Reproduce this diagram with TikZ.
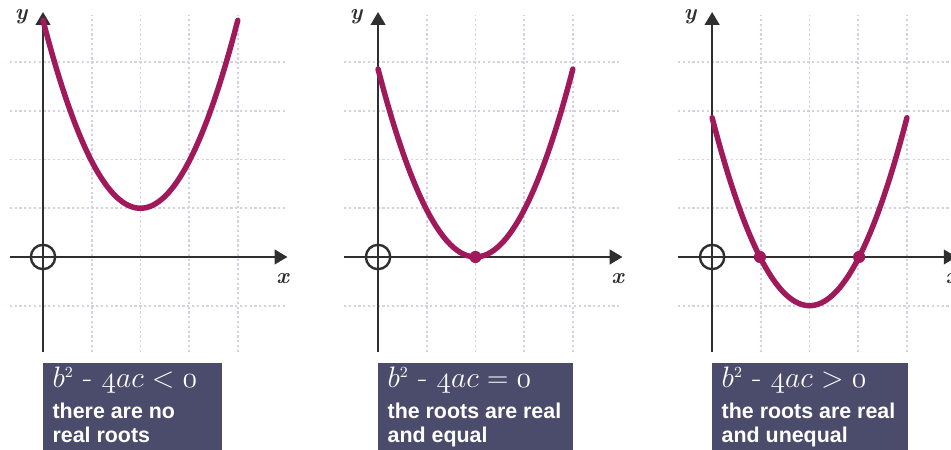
\documentclass[tikz,border=0pt]{standalone}
\usepackage{fontspec}
\usepackage{tikz}
\usetikzlibrary{arrows.meta, positioning}
\newfontfamily\boxsans{Liberation Sans}
\definecolor{qcurve}{HTML}{A01A5B}
\definecolor{qaxis}{HTML}{2F2F2F}
\definecolor{qgrid}{HTML}{D2D2E2}
\definecolor{qbox}{HTML}{4B4B6B}

\begin{document}
\begin{tikzpicture}[x=1cm, y=1cm,
    gridline/.style={qgrid, line width=1pt, dash pattern=on 1.3pt off 1.5pt},
    axisline/.style={qaxis, line width=1.4pt, -{Triangle[length=7.5pt, width=8.5pt]}},
    curveline/.style={qcurve, line width=3.2pt, line cap=round},
    origin/.style={draw=qaxis, line width=1.4pt, circle, minimum size=0.5cm, inner sep=0pt},
    rootdot/.style={fill=qcurve, circle, minimum size=0.25cm, inner sep=0pt},
    axislabel/.style={font=\fontsize{13}{15}\selectfont\bfseries\itshape, text=qaxis, inner sep=0pt},
    infobox/.style={fill=qbox, draw=none},
    formula/.style={font=\fontsize{18}{20}\selectfont, text=white, anchor=base west, inner sep=0pt},
    caption/.style={font=\boxsans\fontsize{12.5}{14}\selectfont\bfseries, text=white, anchor=base west, inner sep=0pt, align=left}]
    \useasboundingbox (-0.883,-3.963) rectangle (18.645,5.277);

    % Panel A: no real roots
    \begin{scope}[shift={(0,0)}]
        \foreach \gx in {1,2,3,4} \draw[gridline] (\gx,-1.95) -- (\gx,4.97);
        \foreach \gy in {-1,1,2,3,4} \draw[gridline] (-0.68,\gy) -- (5.0,\gy);
        \draw[axisline] (0,-1.95) -- (0,5.03);
        \draw[axisline] (-0.68,0) -- (5.02,0);
        \node[origin] (oA) at (0,0) {};
        \node[axislabel] (yA) at (-0.45,4.93) {y};
        \node[axislabel] (xA) at (4.92,-0.44) {x};
        \draw[curveline] plot[domain=0:4, samples=60, smooth] (\x, {0.965*(\x-2)^2+1});
        \fill[infobox] (0,-2.18) rectangle (3.68,-4.1);
        \node[formula] (fA) at (0.19,-2.69) {$b^{\scriptscriptstyle 2}$ \mbox{-} $\mathnormal{4}ac < \mathnormal{0}$};
        \node[caption] (cA) at (0.19,-3.80) {there are no\\real roots};
    \end{scope}

    % Panel B: equal roots
    \begin{scope}[shift={(6.88,0)}]
        \foreach \gx in {1,2,3,4} \draw[gridline] (\gx,-1.95) -- (\gx,4.97);
        \foreach \gy in {-1,1,2,3,4} \draw[gridline] (-0.70,\gy) -- (5.0,\gy);
        \draw[axisline] (0,-1.95) -- (0,5.03);
        \draw[axisline] (-0.70,0) -- (5.02,0);
        \node[origin] (oB) at (0,0) {};
        \node[axislabel] (yB) at (-0.45,4.93) {y};
        \node[axislabel] (xB) at (4.92,-0.44) {x};
        \draw[curveline] plot[domain=0:4, samples=60, smooth] (\x, {0.965*(\x-2)^2});
        \node[rootdot] (rB) at (2,0) {};
        \fill[infobox] (0,-2.18) rectangle (4.0,-4.1);
        \node[formula] (fB) at (0.19,-2.69) {$b^{\scriptscriptstyle 2}$ \mbox{-} $\mathnormal{4}ac = \mathnormal{0}$};
        \node[caption] (cB) at (0.19,-3.80) {the roots are real\\and equal};
    \end{scope}

    % Panel C: unequal roots
    \begin{scope}[shift={(13.74,0)}]
        \foreach \gx in {1,2,3,4} \draw[gridline] (\gx,-1.95) -- (\gx,4.97);
        \foreach \gy in {-1,1,2,3,4} \draw[gridline] (-0.70,\gy) -- (5.0,\gy);
        \draw[axisline] (0,-1.95) -- (0,5.03);
        \draw[axisline] (-0.70,0) -- (5.02,0);
        \node[origin] (oC) at (0,0) {};
        \node[axislabel] (yC) at (-0.45,4.93) {y};
        \node[axislabel] (xC) at (4.92,-0.44) {x};
        \draw[curveline] plot[domain=0:4, samples=60, smooth] (\x, {0.965*(\x-2)^2-1});
        \node[rootdot] (rC1) at (0.982,0) {};
        \node[rootdot] (rC2) at (3.018,0) {};
        \fill[infobox] (0,-2.18) rectangle (4.02,-4.1);
        \node[formula] (fC) at (0.19,-2.69) {$b^{\scriptscriptstyle 2}$ \mbox{-} $\mathnormal{4}ac > \mathnormal{0}$};
        \node[caption] (cC) at (0.19,-3.80) {the roots are real\\and unequal};
    \end{scope}
\end{tikzpicture}
\end{document}
